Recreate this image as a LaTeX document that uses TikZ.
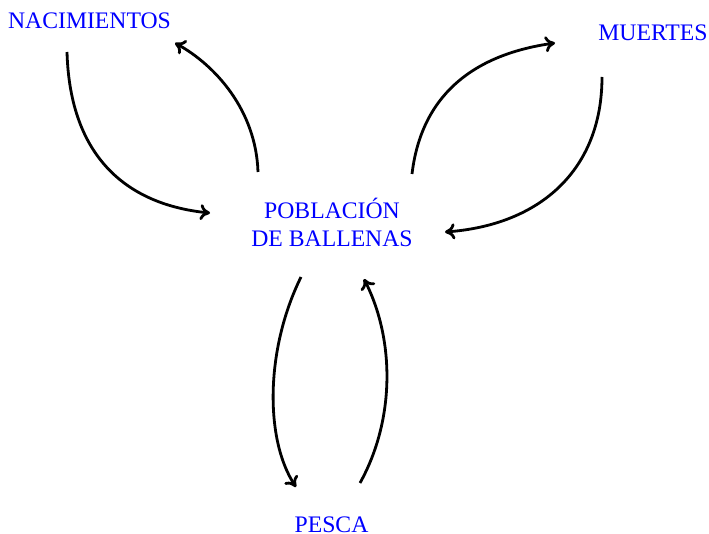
\documentclass[tikz,border=0pt]{standalone}
\usepackage{fontspec}
\setmainfont{Liberation Serif}
\usetikzlibrary{arrows.meta}
\begin{document}
\begin{tikzpicture}[x=1pt,y=-1pt,
  lbl/.style={text=blue,inner sep=0pt,font=\fontsize{23.7}{28}\selectfont,align=center},
  arr/.style={line width=2.8pt,-{Computer Modern Rightarrow[length=10pt,width=16pt]}}]
\useasboundingbox (0,0) rectangle (709,534);
\node[lbl,anchor=base] (nac) at (89.5,29) {NACIMIENTOS};
\node[lbl,anchor=base] (mue) at (653,41) {MUERTES};
\node[lbl] (pob) at (332,222) {POBLACIÓN\\DE BALLENAS};
\node[lbl,anchor=base] (pes) at (331.5,532) {PESCA};
% births
\draw[arr] ([shift={(-22.5,23)}]nac.base) .. controls (70,160) and (130,205) .. ([shift={(-122,-9)}]pob.center);
\draw[arr] ([shift={(-74,-50)}]pob.center) .. controls (256,110) and (215,65) .. ([shift={(85.5,14)}]nac.base);
% deaths
\draw[arr] ([shift={(80,-48)}]pob.center) .. controls (421,98) and (470,55) .. ([shift={(-98,2)}]mue.base);
\draw[arr] ([shift={(-51,36)}]mue.base) .. controls (602,170) and (540,225) .. ([shift={(113,10)}]pob.center);
% fishing
\draw[arr] ([shift={(-31,55)}]pob.center) .. controls (265,350) and (265,440) .. ([shift={(-35.5,-45)}]pes.base);
\draw[arr] ([shift={(28.5,-49)}]pes.base) .. controls (395,420) and (395,340) .. ([shift={(32,57)}]pob.center);
\end{tikzpicture}
\end{document}
